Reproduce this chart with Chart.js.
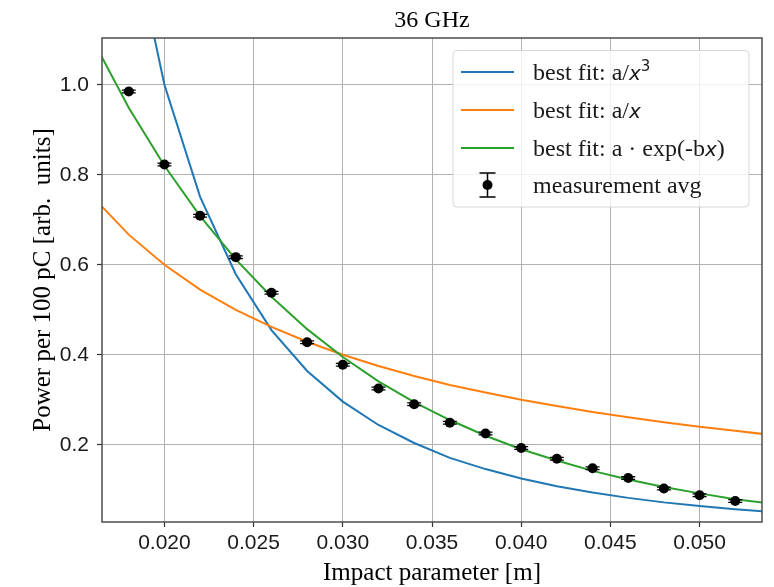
<!DOCTYPE html>
<html>
<head>
<meta charset="utf-8">
<script src="https://cdn.jsdelivr.net/npm/chart.js@4.4.1/dist/chart.umd.min.js"></script>
<style>
html,body{margin:0;padding:0;background:#fff;}
#wrap{width:774px;height:587px;}
</style>
</head>
<body>
<div id="wrap"><canvas id="c" width="774" height="587"></canvas></div>
<script>
// ---- data ----
const titleText = "36 GHz";
const xAxisLabel = "Impact parameter [m]";
const yAxisLabel = "Power per 100 pC [arb.  units]";

const xTicks = [0.020, 0.025, 0.030, 0.035, 0.040, 0.045, 0.050];
const yTicks = [0.2, 0.4, 0.6, 0.8, 1.0];

// measurement averages
const xMeas = [0.018, 0.020, 0.022, 0.024, 0.026, 0.028, 0.030, 0.032, 0.034,
               0.036, 0.038, 0.040, 0.042, 0.044, 0.046, 0.048, 0.050, 0.052];
const yMeas = [0.985, 0.823, 0.709, 0.617, 0.538, 0.428, 0.378, 0.325, 0.290,
               0.249, 0.225, 0.193, 0.169, 0.148, 0.126, 0.103, 0.088, 0.075];
const yErr  = [0.003, 0.003, 0.003, 0.003, 0.003, 0.003, 0.003, 0.003, 0.003,
               0.003, 0.003, 0.003, 0.003, 0.003, 0.003, 0.003, 0.003, 0.003];

// fitted curves, sampled at these x positions
const xFit = [0.016, 0.018, 0.020, 0.022, 0.024, 0.026, 0.028, 0.030, 0.032, 0.034,
              0.036, 0.038, 0.040, 0.042, 0.044, 0.046, 0.048, 0.050, 0.052, 0.054];
const fitCube = [1.953, 1.372, 1.000, 0.751, 0.579, 0.455, 0.364, 0.296, 0.244, 0.204,
                 0.171, 0.146, 0.125, 0.108, 0.094, 0.082, 0.072, 0.064, 0.057, 0.051];
const fitInv  = [0.750, 0.667, 0.600, 0.545, 0.500, 0.462, 0.429, 0.400, 0.375, 0.353,
                 0.333, 0.316, 0.300, 0.286, 0.273, 0.261, 0.250, 0.240, 0.231, 0.222];
const fitExp  = [1.098, 0.949, 0.820, 0.708, 0.612, 0.529, 0.457, 0.395, 0.341, 0.295,
                 0.255, 0.220, 0.190, 0.165, 0.142, 0.123, 0.106, 0.092, 0.079, 0.069];

const seriesNames = ["best fit: a/x^3", "best fit: a/x", "best fit: a \u00b7 exp(-bx)", "measurement avg"];
const colors = ["#1f77b4", "#ff7f0e", "#2ca02c", "#000000"];

// ---- chart ----
const SERIF = "'Liberation Serif', 'Times New Roman', serif";
const SANS = "'Liberation Sans', Arial, sans-serif";

function pts(xs, ys){ return xs.map((x,i)=>({x:x, y:ys[i]})); }

const errorBars = {
  id: 'errorBars',
  afterDatasetsDraw(chart){
    const ctx = chart.ctx, xs = chart.scales.x, ys = chart.scales.y;
    ctx.save();
    ctx.strokeStyle = '#000'; ctx.lineWidth = 1.3;
    xMeas.forEach((x,i)=>{
      const px = xs.getPixelForValue(x);
      const p1 = ys.getPixelForValue(yMeas[i]+yErr[i]);
      const p2 = ys.getPixelForValue(yMeas[i]-yErr[i]);
      ctx.beginPath();
      ctx.moveTo(px, p1); ctx.lineTo(px, p2);
      ctx.moveTo(px-7, p1); ctx.lineTo(px+7, p1);
      ctx.moveTo(px-7, p2); ctx.lineTo(px+7, p2);
      ctx.stroke();
    });
    // axes box
    const a = chart.chartArea;
    ctx.strokeStyle = '#4d4d4d'; ctx.lineWidth = 1.5;
    ctx.strokeRect(a.left, a.top, a.right-a.left, a.bottom-a.top);
    ctx.restore();
  }
};

function drawSegments(ctx, segs, x, y){
  let cx = x;
  segs.forEach(s=>{
    ctx.font = s.f;
    ctx.fillText(s.t, cx, y + (s.dy||0));
    cx += ctx.measureText(s.t).width + (s.gap||0);
  });
}

const decorations = {
  id: 'decorations',
  afterDraw(chart){
    const ctx = chart.ctx, a = chart.chartArea;
    ctx.save();
    ctx.fillStyle = '#000';
    // title
    ctx.font = "24px " + SERIF;
    ctx.textAlign = 'center'; ctx.textBaseline = 'alphabetic';
    ctx.fillText(titleText, (a.left+a.right)/2, 27);
    // x label
    ctx.font = "25px " + SERIF;
    ctx.fillText(xAxisLabel, (a.left+a.right)/2, 580);
    // y label
    ctx.save();
    ctx.translate(50, (a.top+a.bottom)/2);
    ctx.rotate(-Math.PI/2);
    ctx.font = "25px " + SERIF;
    ctx.fillText(yAxisLabel, 0, 0);
    ctx.restore();

    // legend
    const L = 453, T = 50.5, R = 749, B = 207, r = 4;
    ctx.beginPath();
    ctx.moveTo(L+r, T); ctx.lineTo(R-r, T); ctx.quadraticCurveTo(R, T, R, T+r);
    ctx.lineTo(R, B-r); ctx.quadraticCurveTo(R, B, R-r, B);
    ctx.lineTo(L+r, B); ctx.quadraticCurveTo(L, B, L, B-r);
    ctx.lineTo(L, T+r); ctx.quadraticCurveTo(L, T, L+r, T);
    ctx.closePath();
    ctx.fillStyle = 'rgba(255,255,255,0.8)'; ctx.fill();
    ctx.strokeStyle = 'rgba(204,204,204,0.8)'; ctx.lineWidth = 1; ctx.stroke();

    const rows = [72, 110, 148, 185];
    ctx.lineWidth = 2;
    for (let i=0;i<3;i++){
      ctx.strokeStyle = colors[i];
      ctx.beginPath(); ctx.moveTo(461, rows[i]); ctx.lineTo(514, rows[i]); ctx.stroke();
    }
    // errorbar marker
    ctx.strokeStyle = '#000'; ctx.lineWidth = 1.5;
    ctx.beginPath();
    ctx.moveTo(487.5, rows[3]-12); ctx.lineTo(487.5, rows[3]+12);
    ctx.moveTo(479.5, rows[3]-12); ctx.lineTo(495.5, rows[3]-12);
    ctx.moveTo(479.5, rows[3]+12); ctx.lineTo(495.5, rows[3]+12);
    ctx.stroke();
    ctx.fillStyle = '#000';
    ctx.beginPath(); ctx.arc(487.5, rows[3], 5, 0, Math.PI*2); ctx.fill();

    ctx.textAlign = 'left'; ctx.fillStyle = '#1a1a1a';
    const fS = "24px " + SERIF, fI = "italic 20px 'DejaVu Sans', sans-serif", fSup = "15px 'DejaVu Sans', sans-serif";
    drawSegments(ctx, [{t:'best fit: a/', f:fS},{t:'x', f:fI},{t:'3', f:fSup, dy:-9}], 533, rows[0]+8);
    drawSegments(ctx, [{t:'best fit: a/', f:fS},{t:'x', f:fI}], 533, rows[1]+8);
    drawSegments(ctx, [{t:'best fit: a \u00b7 exp(-b', f:fS},{t:'x', f:fI},{t:')', f:fS}], 533, rows[2]+8);
    drawSegments(ctx, [{t:'measurement avg', f:fS}], 533, rows[3]+8);
    ctx.restore();
  }
};

new Chart(document.getElementById('c'), {
  type: 'scatter',
  data: {
    datasets: [
      {label: seriesNames[0], data: pts(xFit, fitCube), showLine: true, borderColor: colors[0],
       borderWidth: 2, pointRadius: 0, clip: 0, order: 3, tension: 0},
      {label: seriesNames[1], data: pts(xFit, fitInv), showLine: true, borderColor: colors[1],
       borderWidth: 2, pointRadius: 0, clip: 0, order: 2, tension: 0},
      {label: seriesNames[2], data: pts(xFit, fitExp), showLine: true, borderColor: colors[2],
       borderWidth: 2, pointRadius: 0, clip: 0, order: 1, tension: 0},
      {label: seriesNames[3], data: pts(xMeas, yMeas), showLine: false, pointRadius: 5,
       pointHoverRadius: 5, backgroundColor: '#000', borderColor: '#000', borderWidth: 0, order: 0}
    ]
  },
  options: {
    responsive: false,
    animation: false,
    devicePixelRatio: 1,
    layout: {padding: {top: 38, right: 12, left: 0, bottom: 0}},
    plugins: {legend: {display: false}, title: {display: false}, tooltip: {enabled: false}},
    scales: {
      x: {
        type: 'linear', min: 0.0165, max: 0.0535,
        afterBuildTicks: s => { s.ticks = xTicks.map(v => ({value: v})); },
        afterFit: s => { s.height = 65; },
        ticks: {callback: v => v.toFixed(3), font: {family: SANS, size: 21}, color: '#1a1a1a',
                padding: 4, maxRotation: 0, autoSkip: false},
        grid: {color: '#b0b0b0', lineWidth: 1, tickLength: 5, tickColor: '#333', tickWidth: 1.2},
        border: {display: false}
      },
      y: {
        type: 'linear', min: 0.0284, max: 1.104,
        afterBuildTicks: s => { s.ticks = yTicks.map(v => ({value: v})); },
        afterFit: s => { s.width = 102; },
        ticks: {callback: v => v.toFixed(1), font: {family: SANS, size: 21}, color: '#1a1a1a',
                padding: 8, autoSkip: false},
        grid: {color: '#b0b0b0', lineWidth: 1, tickLength: 5, tickColor: '#333', tickWidth: 1.2},
        border: {display: false}
      }
    }
  },
  plugins: [errorBars, decorations]
});
</script>
</body>
</html>
